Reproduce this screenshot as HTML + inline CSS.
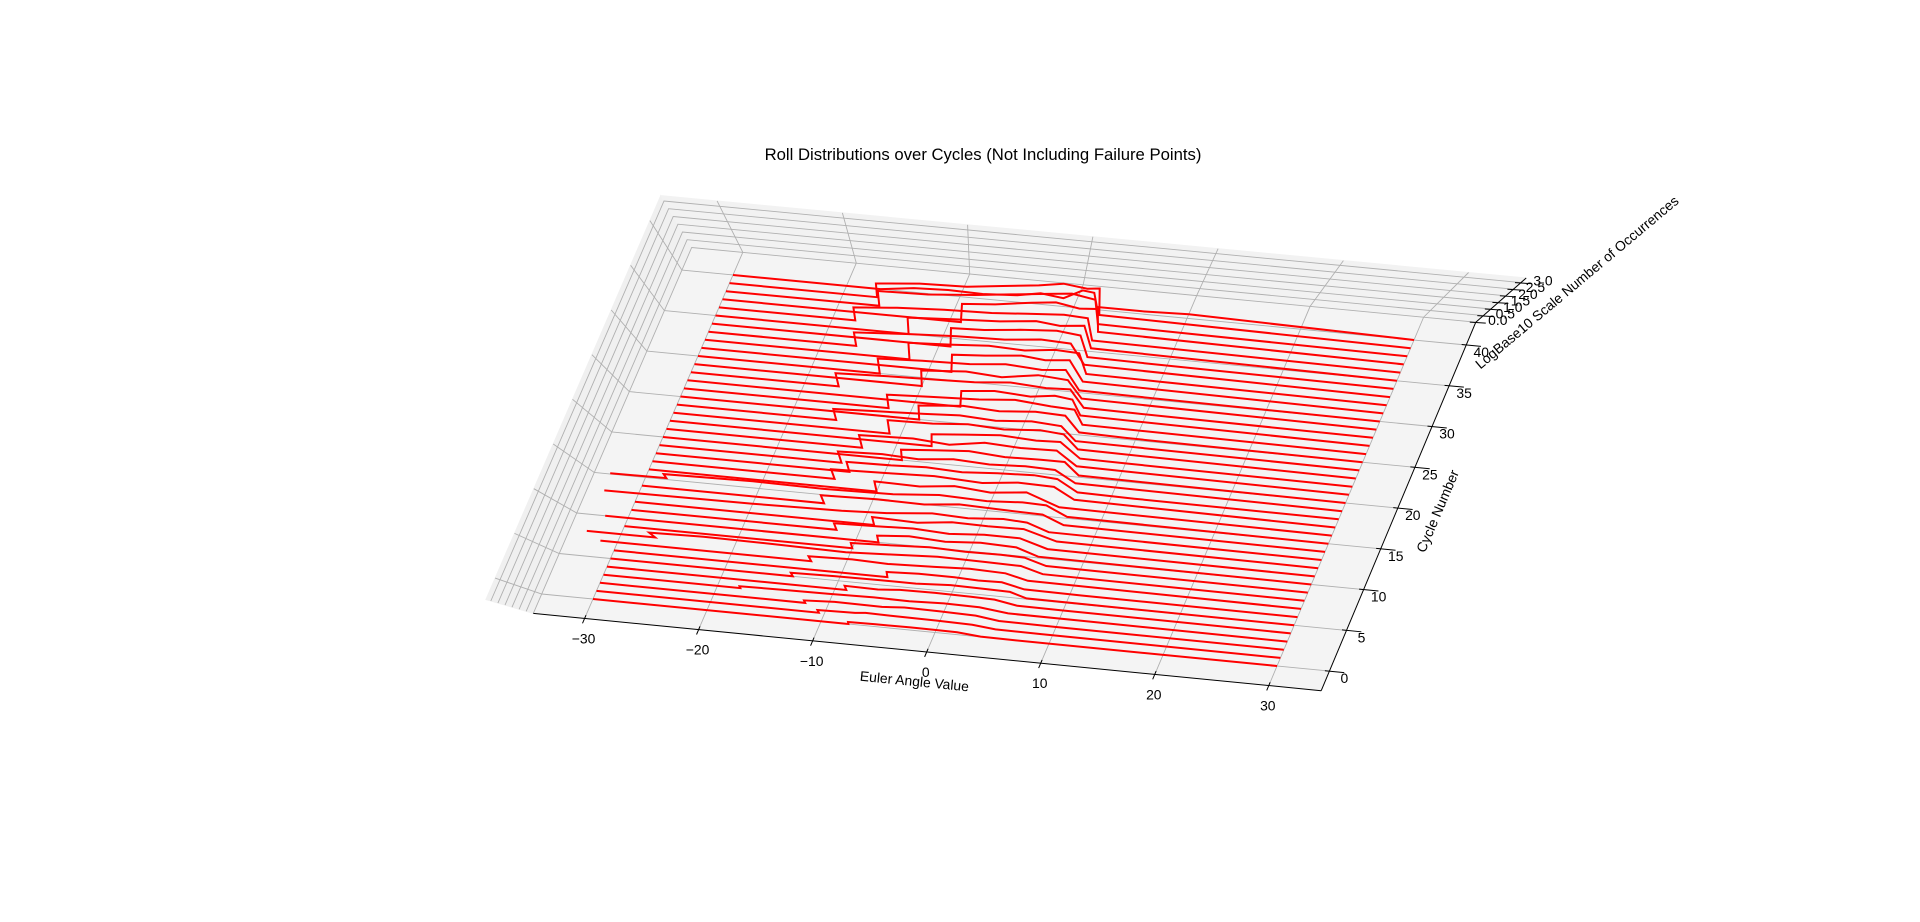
<!DOCTYPE html>
<html><head><meta charset="utf-8"><title>Roll Distributions</title>
<style>
html,body{margin:0;padding:0;background:#fff;}
svg{display:block;font-family:"Liberation Sans","DejaVu Sans",sans-serif;}
</style></head>
<body>
<svg id="chart" width="1920" height="922" viewBox="0 0 1920 922" xmlns="http://www.w3.org/2000/svg">
<rect width="1920" height="922" fill="#fff"/>
<text x="983" y="160" font-size="16.7" text-anchor="middle" fill="#000">Roll Distributions over Cycles (Not Including Failure Points)</text>
<g id="panes"></g><g id="grid"></g><g id="series"></g><g id="axes"></g>
<text x="914" y="686" font-size="13.9" text-anchor="middle" transform="rotate(5.6 914 686)">Euler Angle Value</text>
<text x="1442" y="513" font-size="13.9" text-anchor="middle" transform="rotate(-67 1442 513)">Cycle Number</text>
<text x="1580" y="286" font-size="13.9" text-anchor="middle" transform="rotate(-40 1580 286)">LogBase10 Scale Number of Occurrences</text>
</svg>
<script>
const xTicks = [-30,-20,-10,0,10,20,30];
const cycleTicks = [0,5,10,15,20,25,30,35,40];
const zTicks = [0.0,0.5,1.0,1.5,2.0,2.5,3.0];
const cycles = [0,1,2,3,4,5,6,7,8,9,10,11,12,13,14,15,16,17,18,19,20,21,22,23,24,25,26,27,28,29,30,31,32,33,34,35,36,37,38,39,40];
const profiles = [
[[-30,0],[-7.6,0],[-7.4,0.6],[-5,0.7],[-2,0.8],[0,0.8],[2,0.7],[4,0.1],[7,0],[30,0]],
[[-30,0],[-10.5,0],[-10.3,0.7],[-7,0.9],[-6,1.2],[-4,1.1],[0,1.0],[3,0.8],[5,0.15],[9,0.1],[30,0]],
[[-30,0],[-12,0],[-11.8,0.6],[-9,1.0],[-5,0.9],[-3,1.3],[0,1.2],[3,1.0],[5,0.2],[10,0.1],[30,0]],
[[-30,0],[-18,0],[-17.8,0.4],[-14,0.6],[-10,0.7],[-6,0.9],[-3,0.8],[0,1.1],[3,1.0],[5.5,0.2],[12,0.15],[30,0]],
[[-30,0],[-9,0],[-8.8,0.9],[-6,0.8],[-4,1.2],[-1,1.3],[2,1.2],[4,1.1],[6,0.2],[10,0.15],[30,0]],
[[-30,0],[-14,0],[-13.8,0.7],[-10,0.9],[-6,1.0],[-3,1.0],[0,1.4],[3,1.3],[5,1.2],[6.5,0.15],[30,0]],
[[-30,0],[-6,0],[-5.8,1.0],[-3,1.3],[0,1.3],[2,1.1],[4,1.2],[6,0.2],[11,0.1],[30,0]],
[[-31.5,0],[-13,0],[-12.8,0.9],[-9,1.1],[-6,0.9],[-2,1.2],[1,1.5],[4,1.3],[6,0.3],[30,0]],
[[-33,0],[-27,0],[-26.8,0.8],[-22,1.0],[-16,0.9],[-10,0.7],[-6,1.1],[-2,1.5],[2,1.4],[5,1.3],[7,0.2],[30,0]],
[[-30,0],[-10,0],[-9.8,0.9],[-6,1.2],[-3,1.5],[0,1.3],[3,1.4],[5,1.3],[7,0.2],[12,0.15],[30,0]],
[[-32,0],[-8,0],[-7.8,1.1],[-5,1.5],[-2,1.2],[1,1.6],[4,1.4],[6,0.2],[30,0]],
[[-30,0],[-12,0],[-11.8,1.0],[-8,1.2],[-5,1.4],[-2,1.1],[1,1.5],[4,1.5],[6.5,0.2],[30,0]],
[[-30,0],[-9,0],[-8.8,1.2],[-5,1.0],[-2,1.6],[1,1.5],[4,1.6],[7,0.2],[30,0]],
[[-33,0],[-20,0.15],[-12,0.4],[-8,0.7],[-4,1.3],[-1,1.1],[2,1.5],[4,1.3],[6,0.2],[30,0]],
[[-30,0],[-14,0],[-13.8,1.1],[-9,1.3],[-5,1.2],[-2,1.7],[2,1.5],[5,1.4],[7,0.2],[30,0]],
[[-33,0.1],[-28,0.2],[-27.8,0.7],[-20,0.9],[-14,0.8],[-8,1.0],[-4,1.5],[0,1.3],[3,1.6],[5,1.5],[7,0.2],[30,0]],
[[-30,0],[-10,0],[-9.8,1.3],[-6,1.2],[-3,1.7],[0,1.3],[3,1.8],[6,0.25],[30,0]],
[[-30,0],[-14,0],[-13.8,1.2],[-9,1.4],[-5,1.6],[-1,1.3],[2,1.8],[5,1.7],[7,0.3],[30,0]],
[[-30,0],[-13,0],[-12.8,1.2],[-9,1.3],[-6,1.5],[-3,1.3],[0,1.6],[3,1.8],[5,1.6],[7,0.2],[12,0.1],[30,0]],
[[-30,0],[-14,0],[-13.8,1.3],[-10,1.5],[-7,1.3],[-4,1.7],[-1,1.5],[2,1.7],[4.5,1.6],[6.5,0.25],[30,0]],
[[-30,0],[-9,0],[-8.8,1.2],[-6,1.5],[-3,1.8],[0,1.5],[3,1.6],[5,1.6],[6.5,0.2],[11,0.15],[30,0]],
[[-30,0],[-12.8,0],[-12.6,1.4],[-8,1.6],[-5,1.3],[-2,1.9],[1,1.7],[4,1.8],[6,0.25],[30,0]],
[[-30,0],[-7,0],[-6.8,1.3],[-4,1.6],[-1,1.9],[2,1.7],[4,1.8],[6,0.2],[10,0.15],[30,0]],
[[-30,0],[-11,0],[-10.8,1.4],[-7,1.5],[-4,1.8],[-1,1.6],[2,1.9],[4,1.7],[5.5,0.25],[30,0]],
[[-30,0],[-16,0],[-15.8,1.1],[-12,1.3],[-8,1.5],[-5,1.7],[-2,1.5],[1,1.8],[3.5,1.6],[5,0.2],[30,0]],
[[-30,0],[-9,0],[-8.8,1.4],[-5,1.8],[-2,1.6],[1,1.9],[3.5,1.8],[5,0.25],[9,0.15],[30,0]],
[[-30,0],[-12,0],[-11.8,1.3],[-8,1.5],[-4,1.7],[-1,2.0],[2,1.7],[4,1.6],[5,0.2],[30,0]],
[[-30,0],[-6,0],[-5.8,1.5],[-3,1.8],[0,1.6],[2,1.9],[3.5,1.7],[4.5,0.25],[30,0]],
[[-30,0],[-17,0],[-16.8,1.2],[-12,1.4],[-8,1.5],[-5,1.6],[-2,1.9],[1,1.7],[3,1.8],[4.5,0.2],[9,0.15],[30,0]],
[[-30,0],[-10,0],[-9.8,1.4],[-6,1.7],[-3,1.5],[0,2.0],[2.5,1.8],[4,0.25],[30,0]],
[[-30,0],[-14,0],[-13.8,1.3],[-10,1.5],[-6,1.6],[-3,1.9],[0,1.7],[2,1.9],[3.5,0.2],[8,0.15],[30,0]],
[[-30,0],[-8,0],[-7.8,1.5],[-5,1.7],[-2,2.0],[0,1.8],[2,2.0],[3.5,0.25],[30,0]],
[[-30,0],[-12,0],[-11.8,1.4],[-8,1.6],[-5,1.8],[-2,1.7],[0.5,2.0],[2.5,1.9],[3.5,0.2],[10,0.15],[30,0]],
[[-30,0],[-17,0],[-16.8,1.1],[-12,1.4],[-8,1.6],[-4,1.7],[-1,2.0],[1.5,1.9],[3,0.25],[30,0]],
[[-30,0],[-9,0],[-8.8,1.5],[-6,1.6],[-3,1.9],[0,2.1],[2,1.9],[3,0.2],[8,0.15],[30,0]],
[[-30,0],[-13,0],[-12.8,1.3],[-9,1.5],[-5,1.7],[-2,2.0],[0,1.8],[2,2.0],[3,0.25],[30,0]],
[[-30,0],[-18,0],[-17.8,1.0],[-14,1.3],[-10,1.5],[-6,1.6],[-3,1.8],[0,2.0],[2,1.9],[2.8,0.2],[30,0]],
[[-30,0],[-9,0],[-8.8,1.4],[-6,1.6],[-3,2.0],[-1,2.2],[1,1.9],[2.5,2.0],[3,0.25],[30,0]],
[[-30,0],[-16.5,0],[-16.3,1.1],[-12,1.2],[-8,1.5],[-5,1.8],[-2,2.1],[0,2.3],[2,2.0],[2.7,0.2],[8,0.15],[30,0]],
[[-30,0],[-17,0],[-16.8,1.0],[-13,1.3],[-9,1.4],[-6,1.7],[-3,2.0],[-1,2.3],[1,2.1],[2,2.2],[2.5,0.25],[30,0]],
[[-30,0],[-17,0],[-14,0.3],[-11,0.4],[-8,0.35],[-5,0.5],[-3,0.8],[-1,0.6],[0.5,1.3],[1.5,1.2],[2,0.2],[6,0.2],[10,0.3],[30,0]]
];

const NS = "http://www.w3.org/2000/svg";
const A=[593,599], B=[1277,666], C=[733,275], D=[1414,340], VP=[990,747];
const XMIN=-34.5, XMAX=34.6, CMIN=-2.4, CMAX=42.8, ZTOP=3.35, LIFT=0.031;
function floorPt(x,c){
  const u=(x+30)/60, v=c/40;
  return [
    (1-u)*(1-v)*A[0]+u*(1-v)*B[0]+(1-u)*v*C[0]+u*v*D[0],
    (1-u)*(1-v)*A[1]+u*(1-v)*B[1]+(1-u)*v*C[1]+u*v*D[1]
  ];
}
function proj(x,c,z){
  const p=floorPt(x,c);
  const k=z*LIFT;
  return [p[0]+k*(p[0]-VP[0]), p[1]+k*(p[1]-VP[1])];
}
function pts(list){return list.map(p=>p[0].toFixed(1)+","+p[1].toFixed(1)).join(" ");}
function mk(tag,attrs,parent){
  const e=document.createElementNS(NS,tag);
  for(const k in attrs) e.setAttribute(k,attrs[k]);
  parent.appendChild(e); return e;
}
const panes=document.getElementById('panes');
const grid=document.getElementById('grid');
const series=document.getElementById('series');
const axes=document.getElementById('axes');

let e;
e=mk('polygon',{points:pts([proj(XMIN,CMIN,0),proj(XMIN,CMAX,0),proj(XMIN,CMAX,ZTOP),proj(XMIN,CMIN,ZTOP)]),fill:'#f0f0f0',stroke:'#f0f0f0'},panes);


e=mk('polygon',{points:pts([proj(XMIN,CMAX,0),proj(XMAX,CMAX,0),proj(XMAX,CMAX,ZTOP),proj(XMIN,CMAX,ZTOP)]),fill:'#f2f2f2',stroke:'#f2f2f2'},panes);


e=mk('polygon',{points:pts([proj(XMIN,CMIN,0),proj(XMAX,CMIN,0),proj(XMAX,CMAX,0),proj(XMIN,CMAX,0)]),fill:'#f4f4f4',stroke:'#f4f4f4'},panes);



const gs={stroke:'#b0b0b0','stroke-width':0.9,fill:'none'};
function gline(list,name){
  const l=mk('polyline',Object.assign({points:pts(list)},gs),grid);
  
  
}
xTicks.forEach(x=>{gline([proj(x,CMIN,0),proj(x,CMAX,0),proj(x,CMAX,ZTOP)],'x-gridline');});
cycleTicks.forEach(c=>{gline([proj(XMAX,c,0),proj(XMIN,c,0),proj(XMIN,c,ZTOP)],'cycle-gridline');});
zTicks.forEach(z=>{gline([proj(XMIN,CMIN,z),proj(XMIN,CMAX,z),proj(XMAX,CMAX,z)],'z-gridline');});

for(let i=cycles.length-1;i>=0;i--){
  const c=cycles[i];
  const p=profiles[i].map(q=>proj(q[0],c,q[1]));
  const l=mk('polyline',{points:pts(p),fill:'none',stroke:'#ff0000','stroke-width':2,'stroke-linejoin':'miter'},series);
  
  
}

const as={stroke:'#000','stroke-width':1,fill:'none'};
e=mk('polyline',Object.assign({points:pts([proj(XMIN,CMIN,0),proj(XMAX,CMIN,0)])},as),axes);


e=mk('polyline',Object.assign({points:pts([proj(XMAX,CMIN,0),proj(XMAX,CMAX,0)])},as),axes);


e=mk('polyline',Object.assign({points:pts([proj(XMAX,CMAX,0),proj(XMAX,CMAX,ZTOP)])},as),axes);



function label(x,y,txt,name){
  const t=mk('text',{x:x.toFixed(1),y:(y+5).toFixed(1),'font-size':13.9,'text-anchor':'middle',fill:'#000'},axes);
  t.textContent=txt;
  
  
}
function fmt(v){return v<0?'\u2212'+Math.abs(v):String(v);}
xTicks.forEach(x=>{
  const a=proj(x,CMIN+0.4,0), b=proj(x,CMIN-0.6,0);
  const t=mk('line',{x1:a[0],y1:a[1],x2:b[0],y2:b[1],stroke:'#000','stroke-width':1},axes);
  
  
  const p=proj(x,CMIN,0);
  label(p[0]-1,p[1]+20,fmt(x),'x-tick-label');
});
cycleTicks.forEach(c=>{
  const a=proj(XMAX-0.4,c,0), b=proj(XMAX+1.3,c,0);
  const t=mk('line',{x1:a[0],y1:a[1],x2:b[0],y2:b[1],stroke:'#000','stroke-width':1},axes);
  
  
  const p=proj(XMAX,c,0);
  label(p[0]+15,p[1]+7,String(c),'cycle-tick-label');
});
zTicks.forEach(z=>{
  const p=proj(XMAX,CMAX,z);
  const t=mk('line',{x1:p[0]-6,y1:p[1],x2:p[0]+10,y2:p[1]+1,stroke:'#000','stroke-width':1},axes);
  
  
  label(p[0]+22,p[1]-2,z.toFixed(1),'z-tick-label');
});
</script>
</body></html>
